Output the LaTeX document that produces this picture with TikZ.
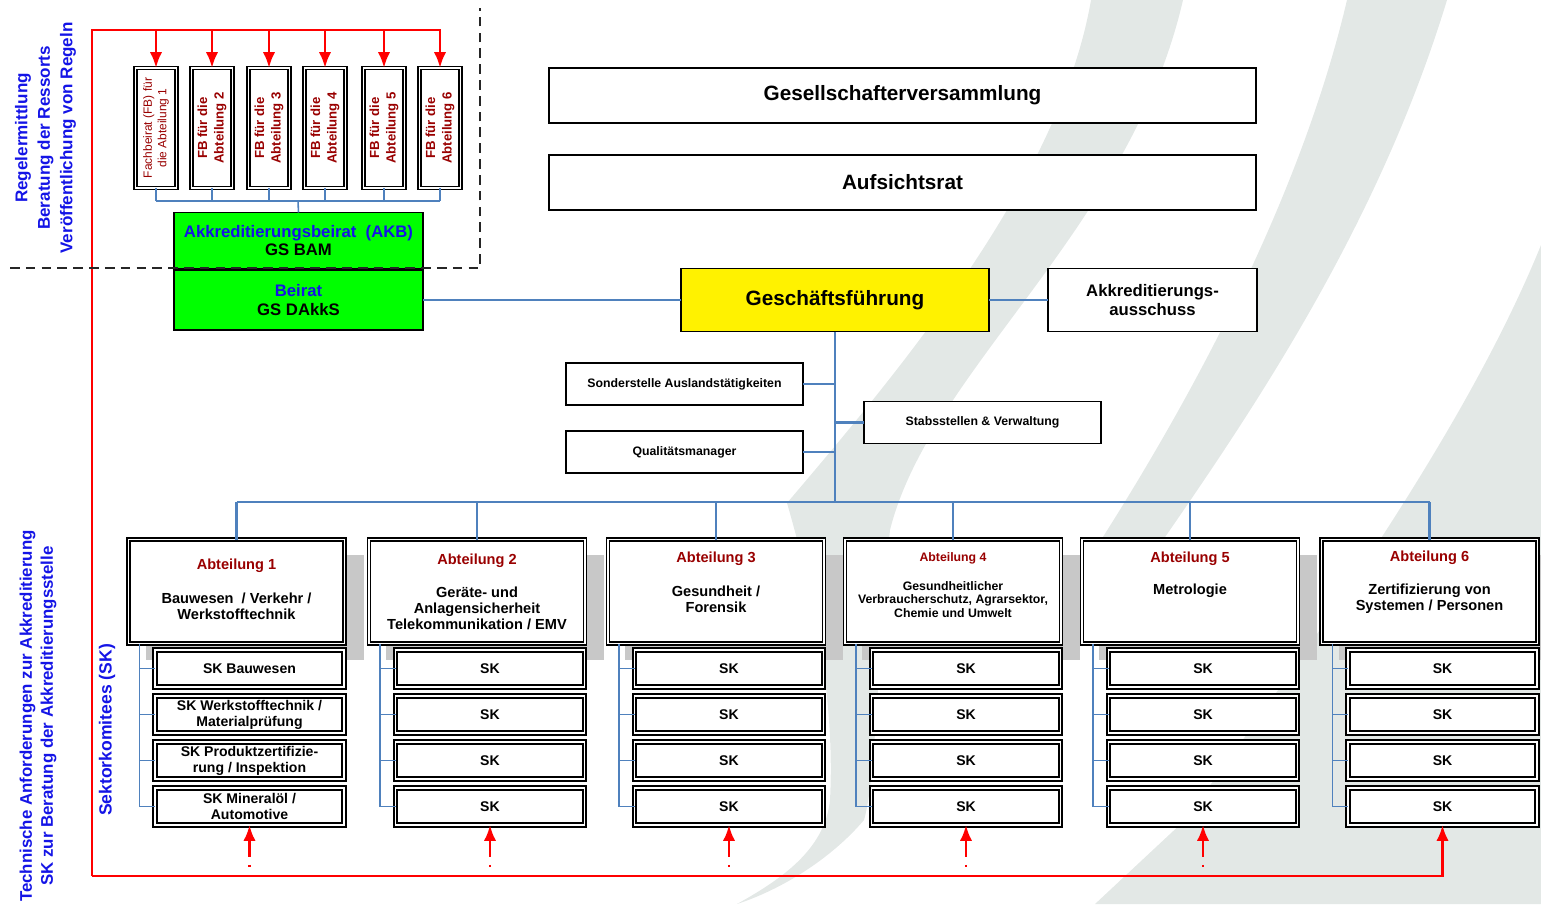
\documentclass[tikz,border=0pt]{standalone}
\usepackage{fontspec}
\setmainfont{Liberation Sans}
\usetikzlibrary{arrows.meta,positioning}

\definecolor{lineblue}{HTML}{4F81BD}
\definecolor{sideblue}{HTML}{1414E6}
\definecolor{abtred}{HTML}{990000}
\definecolor{logogray}{HTML}{E3E8E6}
\definecolor{shadegray}{HTML}{C8C8C8}
\definecolor{redframe}{HTML}{FF0000}
\definecolor{akbgreen}{HTML}{00FF00}

\newcommand{\fsz}[2]{\fontsize{#1}{#2}\selectfont}

\begin{document}
\begin{tikzpicture}[x=0.02cm, y=-0.02cm,
  every node/.style={inner sep=0pt, outer sep=0pt, align=center, font=\bfseries},
  boxsize/.style 2 args={minimum width=#1*0.02cm, minimum height=#2*0.02cm},
  link/.style={draw=lineblue, line width=1.4pt},
  linkthin/.style={draw=lineblue, line width=0.9pt},
  plainbox/.style={draw, line width=0.8pt, fill=white},
  dblbox/.style={draw, double=white, double distance=1pt, line width=0.9pt, fill=white},
  bigbox/.style={plainbox, boxsize={707}{55}, font=\bfseries\fsz{11.8}{14}},
  smallbox/.style={plainbox, line width=0.6pt, boxsize={237}{42}, font=\bfseries\fsz{7}{8}},
  greenbox/.style={draw, line width=0.8pt, fill=akbgreen, boxsize={249}{56}, font=\bfseries\fsz{9.5}{10.5}},
  fbbox/.style={dblbox, boxsize={41}{120}},
  fbtext/.style={text=abtred, font=\bfseries\fsz{7.5}{9.5}},
  skbox/.style={dblbox, line width=1pt, boxsize={189}{37}, font=\bfseries\fsz{8}{9}},
  abttitle/.style={text=abtred, font=\bfseries\fsz{8.3}{9.5}},
  abtdesc/.style={font=\bfseries\fsz{8.3}{9}},
  sidetext/.style={text=sideblue, rotate=90},
  redarrow/.style={draw=redframe, line width=1.6pt, -{Latex[length=9pt,width=7pt]}},
  redback/.style={draw=redframe, line width=1.6pt, {Latex[length=9pt,width=7pt]}-,
    dash pattern=on 10pt off 4.5pt on 1.2pt off 10pt},
  sepline/.style={draw=black!85, line width=1.2pt, dash pattern=on 5.5pt off 3.5pt}]
\useasboundingbox (0,0) rectangle (1541,904);

% logo stripes in the background
\fill[logogray] (1091,0) -- (1183,0) .. controls (1130,230) and (930,370) .. (890,530)
  .. controls (878,650) and (876,780) .. (864,820) .. controls (830,860) and (780,890) .. (737,904)
  .. controls (780,880) and (825,850) .. (830,800) .. controls (835,700) and (815,600) .. (787,503)
  .. controls (900,370) and (1060,180) .. (1091,0) -- cycle;
\fill[logogray] (1347,0) -- (1447,0) .. controls (1380,220) and (1260,400) .. (1163,540)
  .. controls (1120,600) and (1090,630) .. (1060,650) .. controls (1075,600) and (1088,570) .. (1101,540)
  .. controls (1190,400) and (1300,200) .. (1347,0) -- cycle;
\fill[logogray] (1541,245) .. controls (1470,420) and (1330,620) .. (1185,820) -- (1095,904) -- (1541,904) -- cycle;

% side captions
\node[sidetext, font=\bfseries\fsz{9.7}{12.8}] (rules) at (45.5,138)
  {Regelermittlung\\Beratung der Ressorts\\Veröffentlichung von Regeln};
\node[sidetext, font=\bfseries\fsz{9.6}{12}] (techreq) at (38,716)
  {Technische Anforderungen zur Akkreditierung\\SK zur Beratung der Akkreditierungsstelle};
\node[sidetext, font=\bfseries\fsz{10}{12}] (sector) at (107,730) {Sektorkomitees (SK)};

% management
\node[bigbox] (gv) at (902.5,95.5) {Gesellschafterversammlung};
\node[bigbox] (ar) at (902.5,182.5) {Aufsichtsrat};
\node[plainbox, fill=yellow, boxsize={308}{63}, font=\bfseries\fsz{11.8}{14}] (gf) at (835,300) {Geschäftsführung};
\node[plainbox, boxsize={209}{63}, font=\bfseries\fsz{9.5}{10.3}] (aa) at (1152.5,300) {Akkreditierungs-\\ausschuss};
\node[smallbox] (so) at (684.5,384) {Sonderstelle Auslandstätigkeiten};
\node[smallbox] (qm) at (684.5,452) {Qualitätsmanager};
\node[smallbox] (st) at (982.5,422.5) {Stabsstellen \& Verwaltung};
\coordinate (bus) at (835,502);

% advisory boards
\node[greenbox] (akb) at (298.5,240.5) {\textcolor{sideblue}{Akkreditierungsbeirat~~(AKB)}\\GS BAM};
\node[greenbox, boxsize={249}{60}] (br) at (298.5,300) {\textcolor{sideblue}{Beirat}\\GS DAkkS};
\node[fbbox] (fb1) at (156,128) {};
\node[fbtext, rotate=90, font=\fsz{6.8}{8.3}] (fbt1) at (fb1) {Fachbeirat (FB) für\\die Abteilung 1};
\foreach \i/\x in {2/212,3/269,4/325,5/384,6/440}{
  \node[fbbox] (fb\i) at (\x,128) {};
  \node[fbtext, rotate=90] (fbt\i) at (fb\i) {FB für die\\Abteilung \i};
}
\coordinate (fbbus) at (298,201);
\foreach \i in {1,...,6}
  \draw[linkthin] (fb\i.south) -- (fb\i.south |- fbbus);
\draw[linkthin] (fb1.south |- fbbus) -- (fb6.south |- fbbus);
\draw[linkthin] (fbbus) -- (akb.north);

% departments
\foreach \i/\x in {1/236.5,2/477,3/716,4/953,5/1190,6/1429.5}{
  \fill[shadegray] (\x-91,555) rectangle (\x+127,660);
  \node[dblbox, boxsize={216}{104}] (abt\i) at (\x,591.5) {};
  \coordinate (tree\i) at (\x-97,0);
  \draw[link] (abt\i.north) -- (abt\i.north |- bus);
}
\foreach \r/\y/\t in {1/668.5/{SK Bauwesen}, 2/714.5/{SK Werkstofftechnik /\\Materialprüfung},
    3/760.5/{SK Produktzertifizie-\\rung / Inspektion}, 4/806.5/{SK Mineralöl /\\Automotive}}
  \node[skbox] (sk1\r) at (249.5,\y) {\t};
\foreach \i/\x in {2/477,3/716,4/953,5/1190,6/1429.5}
  \foreach \r/\y in {1/668.5,2/714.5,3/760.5,4/806.5}
    \node[skbox] (sk\i\r) at (\x+13,\y) {SK};
\foreach \i in {1,...,6}{
  \draw[linkthin] (abt\i.south -| tree\i) |- (sk\i4.west);
  \foreach \r in {1,2,3}
    \draw[linkthin] (tree\i |- sk\i\r.west) -- (sk\i\r.west);
}

\node[abttitle] (abt1a) at (236.5,566) {Abteilung 1};
\node[abtdesc] (abt1b) at (236.5,606) {Bauwesen~~/ Verkehr /\\Werkstofftechnik};
\node[abttitle] (abt2a) at (477,561) {Abteilung 2};
\node[abtdesc] (abt2b) at (477,608.5) {Geräte- und\\Anlagensicherheit\\Telekommunikation / EMV};
\node[abttitle] (abt3a) at (716,559) {Abteilung 3};
\node[abtdesc] (abt3b) at (716,599.5) {Gesundheit /\\Forensik};
\node[abttitle, font=\bfseries\fsz{7}{8}] (abt4a) at (953,558) {Abteilung 4};
\node[abtdesc, font=\bfseries\fsz{7}{7.9}] (abt4b) at (953,599.5) {Gesundheitlicher\\Verbraucherschutz, Agrarsektor,\\Chemie und Umwelt};
\node[abttitle] (abt5a) at (1190,559) {Abteilung 5};
\node[abtdesc] (abt5b) at (1190,591) {Metrologie};
\node[abttitle] (abt6a) at (1429.5,558) {Abteilung 6};
\node[abtdesc] (abt6b) at (1429.5,598.5) {Zertifizierung von\\Systemen / Personen};

% blue organisation lines
\draw[link] (br.east) -- (gf.west);
\draw[link] (gf.east) -- (aa.west);
\draw[link] (gf.south) -- (bus);
\draw[link] (abt1.north |- bus) -- (abt6.north |- bus);
\draw[link] (so.east) -- (so.east -| bus);
\draw[link] (qm.east) -- (qm.east -| bus);
\draw[link] (st.west) -- (st.west -| bus);

% red feedback frame
\coordinate (rtl) at (92,30);
\coordinate (rbl) at (92,876);
\draw[redarrow] (rbl) -- (rtl) -| (fb6.north);
\foreach \i in {1,...,5}
  \draw[redarrow] (fb\i.north |- rtl) -- (fb\i.north);
\draw[redarrow] (rbl) -| (sk64.south);
\foreach \i in {1,...,5}
  \draw[redback] (sk\i4.south) -- (sk\i4.south |- rbl);

% dashed border of the rule section
\draw[sepline] (10,268) -- (480,268) -- (480,8);
\end{tikzpicture}
\end{document}
